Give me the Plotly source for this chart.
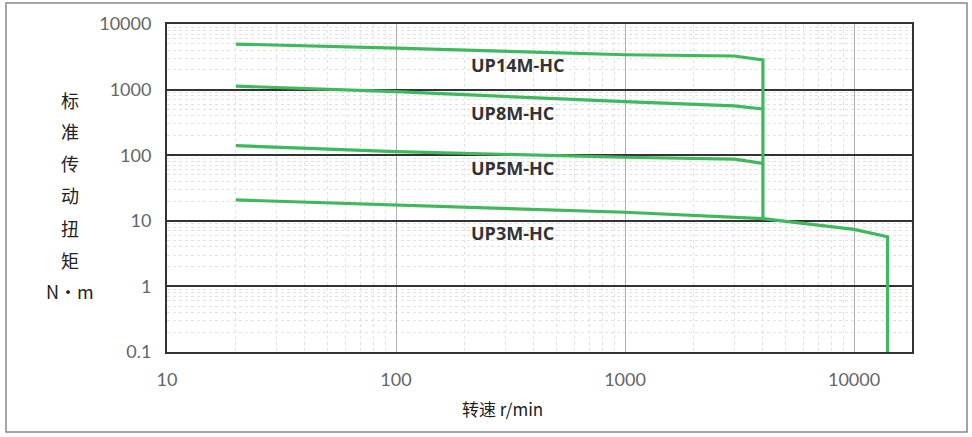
import math
import plotly.graph_objects as go

# Speed (r/min) and torque (N·m)
up14_x = [20, 100, 1000, 3000, 4000, 4000]
up14_y = [4950, 4300, 3400, 3250, 2830, 10.8]
up8_x = [20, 100, 1000, 3000, 4000]
up8_y = [1130, 930, 655, 565, 506]
up5_x = [20, 100, 1000, 3000, 4000]
up5_y = [140, 113, 93, 87, 75]
up3_x = [20, 100, 1000, 4000, 5000, 10000, 14000, 14000]
up3_y = [20.8, 17.4, 13.5, 10.8, 9.8, 7.4, 5.7, 0.1]

series_names = ["UP14M-HC", "UP8M-HC", "UP5M-HC", "UP3M-HC"]
label_y = [2370, 440, 64, 6.5]   # torque level where each label sits
label_x = 208                    # speed where the labels start

y_title_chars = ["标", "准", "传", "动", "扭", "矩", "N•m"]
x_title = "转速 r/min"

x_ticks = [10, 100, 1000, 10000]
y_ticks = [0.1, 1, 10, 100, 1000, 10000]
y_tick_text = ["0.1", "1", "10", "100", "1000", "10000"]

GREEN = "#3fb85e"

fig = go.Figure()
for xs, ys in [(up14_x, up14_y), (up8_x, up8_y), (up5_x, up5_y), (up3_x, up3_y)]:
    fig.add_trace(go.Scatter(x=xs, y=ys, mode="lines",
                             line=dict(color=GREEN, width=3.2),
                             showlegend=False, hoverinfo="skip"))

for name, yv in zip(series_names, label_y):
    fig.add_annotation(x=math.log10(label_x), y=math.log10(yv), xref="x", yref="y",
                       text=name, showarrow=False, xanchor="left", yanchor="middle",
                       font=dict(family="Open Sans", size=18, color="#333333", weight="bold"))

# vertical stacked y title
L, T, B, W = 167, 24, 352, 745
char_py = [100, 131, 163, 195, 228, 260, 291]
for ch, py in zip(y_title_chars, char_py):
    fig.add_annotation(x=(70 - L) / W, y=(B - py) / (B - T), xref="paper", yref="paper",
                       text=ch, showarrow=False, xanchor="center", yanchor="middle",
                       font=dict(family="Noto Sans CJK SC", size=18, color="#222222"))

fig.add_annotation(x=(502 - L) / W, y=(B - 408) / (B - T), xref="paper", yref="paper",
                   text=x_title, showarrow=False, xanchor="center", yanchor="middle",
                   font=dict(family="Noto Sans CJK SC", size=17, color="#222222"))

fig.update_xaxes(type="log", range=[1, 4.253],
                 tickvals=x_ticks, ticktext=[str(v) for v in x_ticks],
                 tickfont=dict(family="Lato", size=18, color="#666666"),
                 showgrid=True, gridcolor="#b0b0b0", gridwidth=1.2,
                 minor=dict(showgrid=True, gridcolor="#e2e2e2", griddash="dot", gridwidth=1,
                            tickvals=[m * 10 ** e for e in range(1, 5) for m in range(2, 10)]),
                 showline=True, linecolor="#333333", linewidth=2, mirror=True,
                 ticks="", ticklabelstandoff=10, zeroline=False)
fig.update_yaxes(type="log", range=[-1, 4],
                 tickvals=y_ticks, ticktext=y_tick_text,
                 tickfont=dict(family="Lato", size=18, color="#666666"),
                 showgrid=True, gridcolor="#333333", gridwidth=1.6,
                 minor=dict(showgrid=True, gridcolor="#e2e2e2", griddash="dot", gridwidth=1,
                            tickvals=[m * 10 ** e for e in range(-1, 4) for m in range(2, 10)]),
                 showline=True, linecolor="#333333", linewidth=2, mirror=True,
                 ticks="", ticklabelstandoff=10, zeroline=False)

fig.add_shape(type="rect", xref="paper", yref="paper",
              x0=(6 - L) / W, x1=(967 - L) / W, y0=(B - 432) / (B - T), y1=(B - 3) / (B - T),
              line=dict(color="#888888", width=1.5), fillcolor="rgba(0,0,0,0)", layer="below")

fig.update_layout(width=972, height=437,
                  margin=dict(l=L, r=972 - 912, t=T, b=437 - B),
                  plot_bgcolor="white", paper_bgcolor="white")

fig.write_html("out.html", config={"displayModeBar": False},
               post_script="document.body.style.margin='0';document.body.style.overflow='hidden';")
